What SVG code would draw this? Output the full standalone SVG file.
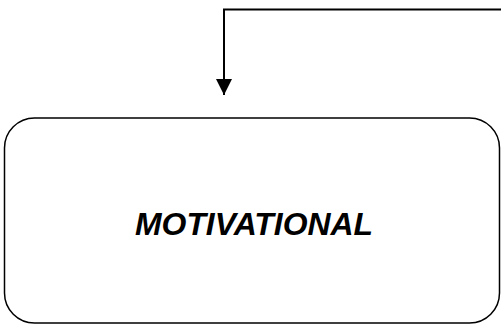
<svg xmlns="http://www.w3.org/2000/svg" width="501" height="325" viewBox="0 0 501 325">
<defs>
<marker id="ah" markerWidth="16" markerHeight="16" viewBox="0 0 16 16" refX="16" refY="8" orient="auto" markerUnits="userSpaceOnUse">
<path d="M0,0 L16,8 L0,16 Z" fill="#000"/>
</marker>
<style>
.node{fill:#fff;stroke:#000;stroke-width:1.5}
.lbl{font-family:"Liberation Sans",Arial,sans-serif;font-weight:bold;font-style:italic;font-size:31px;fill:#000}
.conn{fill:none;stroke:#000;stroke-width:2}
</style>
</defs>
<rect width="501" height="325" fill="#fff"/>
<g id="connectors">
<path class="conn" d="M501,9.5 H224 V95" marker-end="url(#ah)"/>
</g>
<g id="motivational">
<rect class="node" x="4.5" y="118" width="495" height="205" rx="30" ry="30"/>
<text class="lbl" x="254" y="235" text-anchor="middle" textLength="238" lengthAdjust="spacingAndGlyphs">MOTIVATIONAL</text>
</g>
</svg>
